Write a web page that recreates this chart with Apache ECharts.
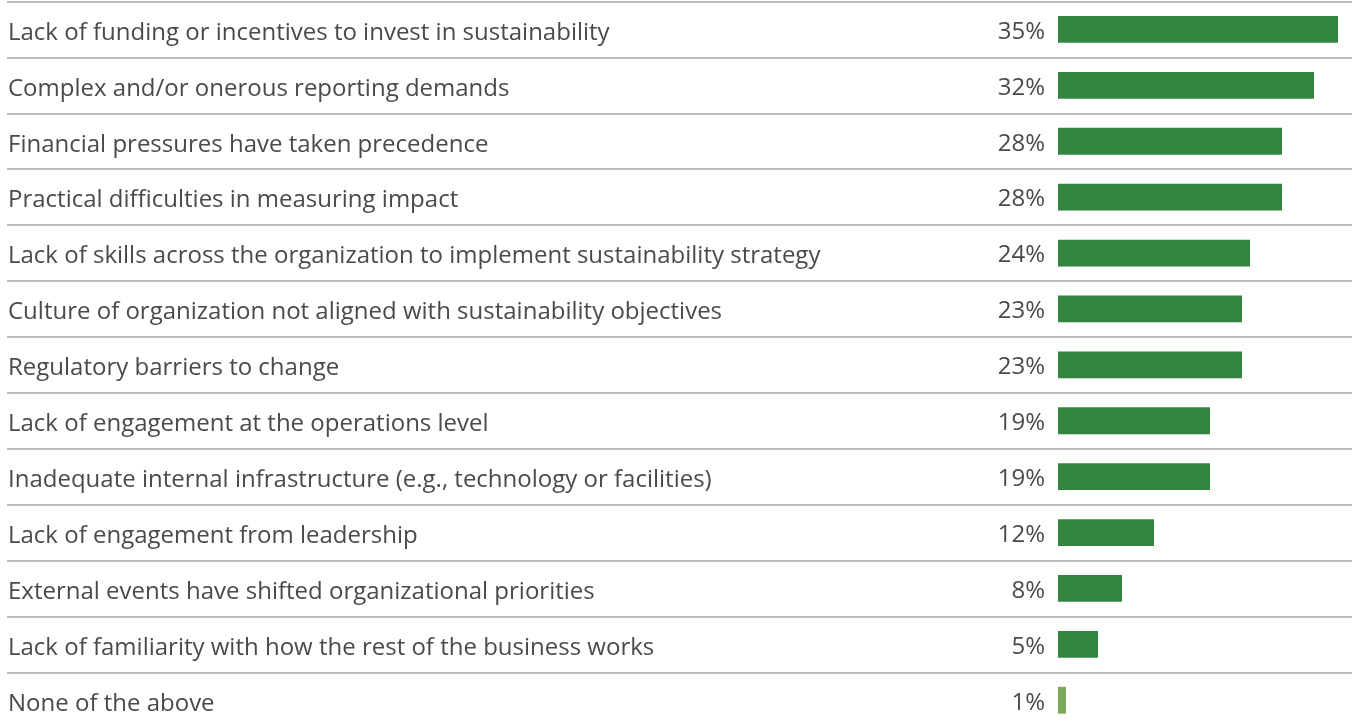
<!DOCTYPE html>
<html>
<head>
<meta charset="utf-8">
<script src="https://cdn.jsdelivr.net/npm/echarts@6/dist/echarts.min.js"></script>
<style>html,body{margin:0;padding:0;background:#fff}#c{width:1352px;height:727px}</style>
</head>
<body>
<div id="c"></div>
<script>
var categories = [
  "Lack of funding or incentives to invest in sustainability",
  "Complex and/or onerous reporting demands",
  "Financial pressures have taken precedence",
  "Practical difficulties in measuring impact",
  "Lack of skills across the organization to implement sustainability strategy",
  "Culture of organization not aligned with sustainability objectives",
  "Regulatory barriers to change",
  "Lack of engagement at the operations level",
  "Inadequate internal infrastructure (e.g., technology or facilities)",
  "Lack of engagement from leadership",
  "External events have shifted organizational priorities",
  "Lack of familiarity with how the rest of the business works",
  "None of the above"
];
var values = [35, 32, 28, 28, 24, 23, 23, 19, 19, 12, 8, 5, 1];

var DARK = '#33843f', LIGHT = '#7aa85a';
var FONT = 'Open Sans';
var chart = echarts.init(document.getElementById('c'));
chart.setOption({
  animation: false,
  grid: { left: 7, right: 0, top: 1.5, height: 726.7, containLabel: false, outerBoundsMode: 'none' },
  xAxis: {
    type: 'value', min: -131.375, max: 36.75,
    show: false
  },
  yAxis: {
    type: 'category', data: categories, inverse: true,
    axisLine: { show: false }, axisTick: { show: false },
    splitLine: { show: true, lineStyle: { color: '#a6a6a6', width: 1.5 } },
    axisLabel: {
      inside: true, margin: 1, align: 'left',
      formatter: function (v) { return '{t|' + v + '}'; },
      rich: { t: { color: '#4a4a4a', fontFamily: FONT, fontSize: 24, padding: [7, 0, 0, 0] } }
    }
  },
  series: [{
    type: 'bar',
    data: values.map(function (v, i) {
      return { value: v, itemStyle: { color: i === values.length - 1 ? LIGHT : DARK } };
    }),
    barWidth: '48%',
    label: {
      show: true, position: 'left', distance: 13, offset: [0, 2.5],
      formatter: '{c}%', color: '#4a4a4a', fontFamily: FONT, fontSize: 24
    }
  }]
});
</script>
</body>
</html>
